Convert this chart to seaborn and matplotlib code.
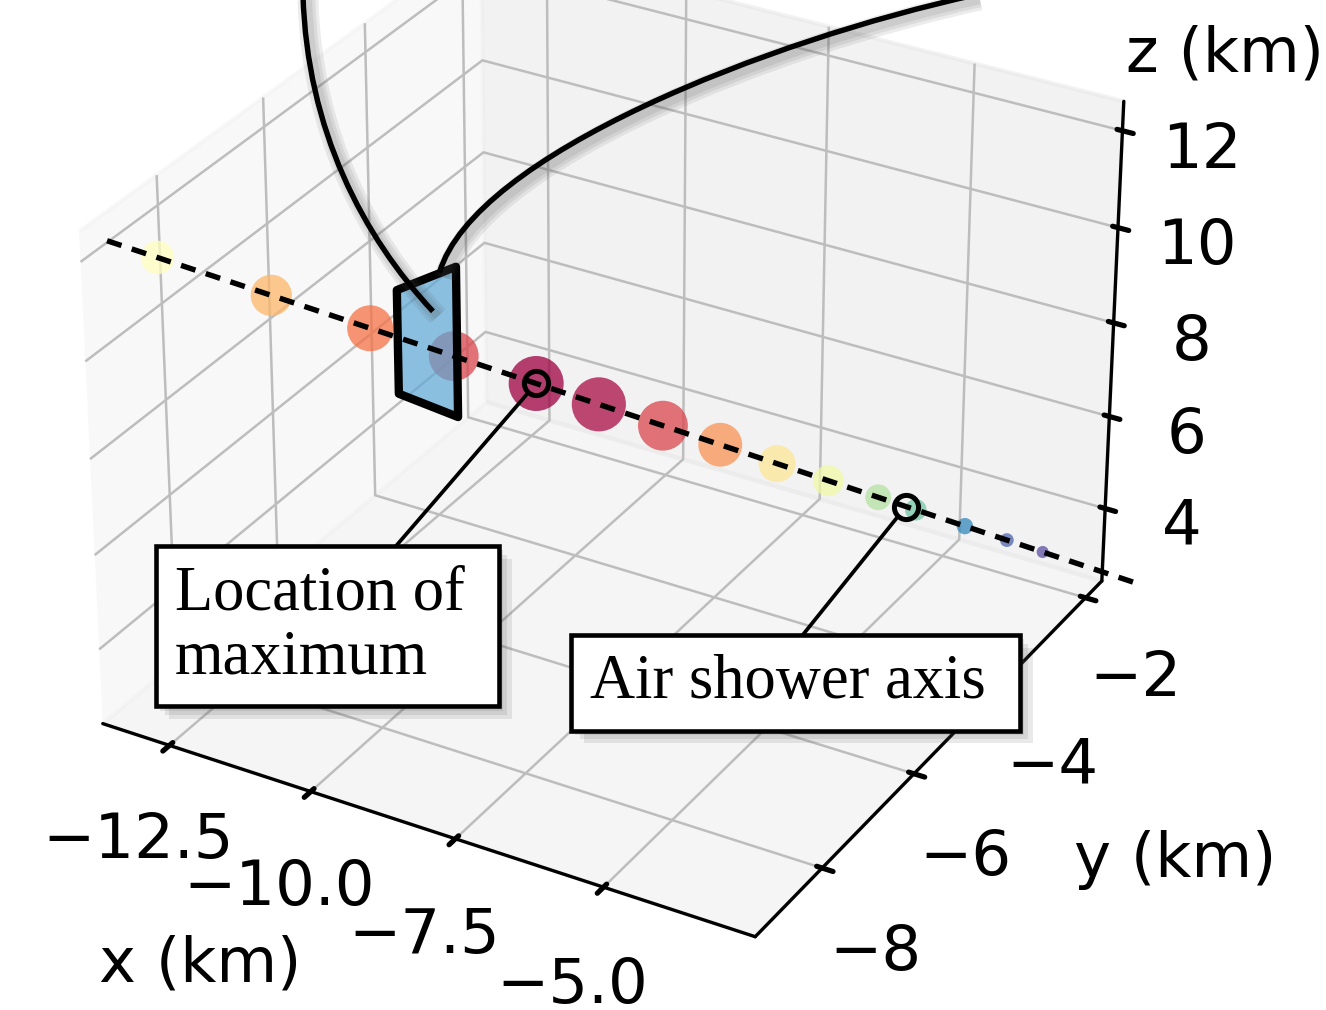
import numpy as np
import matplotlib
matplotlib.use("Agg")
import matplotlib.pyplot as plt
import seaborn as sns
from matplotlib.path import Path
from matplotlib.patches import PathPatch
from matplotlib import patheffects as pe
from mpl_toolkits.mplot3d import proj3d
from mpl_toolkits.mplot3d.art3d import Poly3DCollection

# ---------------- data ----------------
axis_start = [-13.42, -9.20, 12.35]   # shower axis start (km)
axis_end = [-2.1, -1.2, 2.1]          # shower axis end (km)
point_pos = [0.045, 0.148, 0.239, 0.317, 0.395, 0.455, 0.517, 0.573,
             0.629, 0.680, 0.730, 0.768, 0.818, 0.861, 0.898]
deposit = [0.50, 0.68, 0.79, 0.88, 1.00, 0.98, 0.88, 0.74,
           0.58, 0.44, 0.32, 0.22, 0.10, 0.04, 0.00]
max_pos = 0.395
axis_mark_pos = 0.758
plane_x = [-10.49, -10.49, -9.73, -9.73]
plane_y = [-7.02, -7.02, -6.72, -6.72]
plane_z = [8.41, 10.54, 11.02, 7.93]
x_ticks = [-12.5, -10.0, -7.5, -5.0]
y_ticks = [-8, -6, -4, -2]
z_ticks = [4, 6, 8, 10, 12]
x_lim = (-13.7, -2.5)
y_lim = (-9.4, -1.6)
z_lim = (2.4, 12.6)

# ---------------- style ----------------
sns.set_theme(style="ticks")
plt.rcParams.update({
    "font.family": ["DejaVu Sans"],
    "text.color": "black",
    "axes.labelcolor": "black",
    "axes.edgecolor": "black",
    "axes.linewidth": 0.8,
    "grid.color": "#bdbdbd",
    "grid.linewidth": 0.6,
    "xtick.color": "black",
    "ytick.color": "black",
})

W, H, DPI = 1327, 1010, 300
fig = plt.figure(figsize=(W / DPI, H / DPI), dpi=DPI)
ax = fig.add_axes([-0.005, 0.0, 0.908, 1.15], projection="3d", computed_zorder=False)
ax.view_init(elev=30, azim=-60)
ax.set_xlim(x_lim)
ax.set_ylim(y_lim)
ax.set_zlim(z_lim)
ax.set_xticks(x_ticks)
ax.set_yticks(y_ticks)
ax.set_zticks(z_ticks)
ax.set_xticklabels([f"{v:.1f}".replace("-", "\u2212") for v in x_ticks])
ax.set_yticklabels([f"{v:d}".replace("-", "\u2212") for v in y_ticks])
ax.set_zticklabels([f"{v:d}" for v in z_ticks])
ax.tick_params(labelsize=15, colors="black")

cmap = sns.color_palette("Spectral_r", as_cmap=True)
a0 = np.array(axis_start)
a1 = np.array(axis_end)
pts = a0 + np.outer(point_pos, a1 - a0)
dep = np.array(deposit)
sizes = (2.9 + 10.3 * dep) ** 2
ax.scatter(pts[:, 0], pts[:, 1], pts[:, 2], s=sizes, c=cmap(dep), alpha=0.75,
           depthshade=False, linewidths=0, zorder=2)

verts = list(zip(plane_x, plane_y, plane_z))
poly = Poly3DCollection([verts], facecolors=[(0.36, 0.66, 0.84, 0.7)],
                        edgecolors="black", linewidths=2.0, zorder=3)
ax.add_collection3d(poly)

ax.plot([a0[0], a1[0]], [a0[1], a1[1]], [a0[2], a1[2]], color="black",
        ls=(0, (2.8, 2.0)), lw=1.3, zorder=4)

pmax = a0 + max_pos * (a1 - a0)
pax = a0 + axis_mark_pos * (a1 - a0)
for p in (pmax, pax):
    ax.plot([p[0]], [p[1]], [p[2]], marker="o", ms=5.8, mfc="none", mec="black",
            mew=1.2, zorder=5)


def proj(p):
    x2, y2, _ = proj3d.proj_transform(p[0], p[1], p[2], ax.get_proj())
    return (x2, y2)


patch_shadow = [pe.SimplePatchShadow(offset=(o, -o), shadow_rgbFace="0.3", alpha=0.12)
                for o in (1.0, 2.0, 3.0)] + [pe.Normal()]
line_shadow = [pe.SimpleLineShadow(offset=(1.2, -1.2), shadow_color="0.3", alpha=0.10, linewidth=w)
               for w in (2.0, 3.5, 5.0)] + [pe.Normal()]
serif = ["Liberation Serif", "DejaVu Serif"]

an1 = ax.annotate("Location of \nmaximum", xy=proj(pmax), xycoords="data",
                  xytext=(175, H - 565), textcoords="figure pixels",
                  ha="left", va="top", fontsize=15, family=serif, linespacing=1.15,
                  color="black",
                  bbox=dict(boxstyle="square,pad=0.3", fc="white", ec="black", lw=1.1),
                  arrowprops=dict(arrowstyle="-", lw=0.9, color="black",
                                  relpos=(0.67, 1.0), shrinkA=0, shrinkB=3.5),
                  zorder=6)
an1.get_bbox_patch().set_path_effects(patch_shadow)
an2 = ax.annotate("Air shower axis ", xy=proj(pax), xycoords="data",
                  xytext=(590, H - 683), textcoords="figure pixels",
                  ha="left", va="center", fontsize=15, family=serif, color="black",
                  bbox=dict(boxstyle="square,pad=0.3", fc="white", ec="black", lw=1.1),
                  arrowprops=dict(arrowstyle="-", lw=0.9, color="black",
                                  relpos=(0.48, 1.0), shrinkA=0, shrinkB=3.5),
                  zorder=6)
an2.get_bbox_patch().set_path_effects(patch_shadow)

fig.text(1225 / W, 1 - 55 / H, "z (km)", ha="center", va="center", fontsize=15)
fig.text(1175 / W, 1 - 860 / H, "y (km)", ha="center", va="center", fontsize=15)
fig.text(200 / W, 1 - 965 / H, "x (km)", ha="center", va="center", fontsize=15)

# connector curves to the zoomed view above
fig.canvas.draw()
v = np.array(verts)


def to_fig(p3):
    d = ax.transData.transform(proj(p3))
    return fig.transFigure.inverted().transform(d)


top_pt = v[1] + 0.61 * (v[2] - v[1])
bot_pt = v[0] + 0.61 * (v[3] - v[0])
end_left = to_fig(top_pt + 0.27 * (bot_pt - top_pt))
end_right = to_fig(v[1] + 0.73 * (v[2] - v[1]))


def fpx(x, y):
    return np.array([x / W, 1 - y / H])


curve_specs = [
    (fpx(303, -5), fpx(307, 130), end_left + np.array([-70 / W, 75 / H])),
    (fpx(975, -5), fpx(770, 40), end_right + np.array([35 / W, 118 / H])),
]
for (p0, p1, p2), p3 in zip(curve_specs, (end_left, end_right)):
    path = Path([p0, p1, p2, p3], [Path.MOVETO, Path.CURVE4, Path.CURVE4, Path.CURVE4])
    patch = PathPatch(path, transform=fig.transFigure, fc="none", ec="black", lw=1.3,
                      path_effects=line_shadow)
    fig.add_artist(patch)

fig.savefig("out.png", dpi=DPI)
